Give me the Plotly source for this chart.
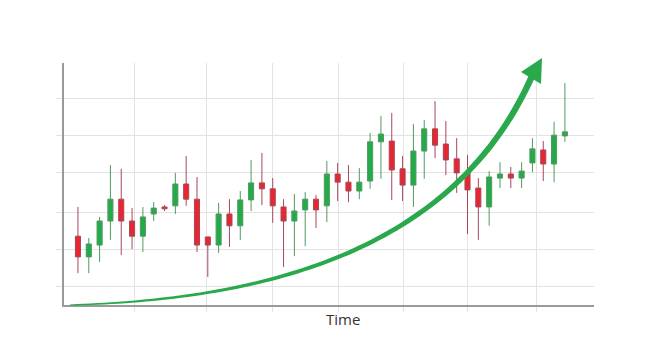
import numpy as np
import plotly.graph_objects as go

# ---- data ----
periods = list(range(46))
open_ = [18.6, 13.0, 16.2, 22.7, 28.6, 22.7, 18.6, 24.6, 26.5, 26.8,
         32.7, 28.6, 18.4, 16.2, 24.6, 21.4, 28.4, 33.0, 31.4, 26.5,
         22.7, 25.7, 28.6, 26.8, 35.4, 33.2, 30.8, 33.5, 44.1, 44.3,
         36.8, 32.4, 41.6, 47.6, 43.5, 39.5, 35.7, 31.6, 26.5, 34.3,
         35.4, 34.3, 38.4, 41.9, 38.1, 45.7]
high = [26.5, 18.1, 23.8, 37.8, 36.8, 26.2, 26.5, 27.8, 27.0, 35.7,
        40.3, 34.6, 18.4, 27.6, 28.6, 30.8, 39.2, 41.1, 34.3, 28.6,
        30.0, 30.5, 29.7, 38.9, 38.4, 37.8, 37.0, 46.5, 51.1, 51.9,
        40.3, 48.9, 50.0, 55.1, 49.7, 45.1, 40.5, 34.3, 36.2, 38.6,
        37.3, 38.6, 45.1, 44.3, 49.5, 60.0]
low = [8.6, 8.6, 11.6, 17.6, 13.5, 15.1, 14.3, 22.7, 25.4, 24.6,
       26.8, 14.3, 7.6, 14.1, 15.7, 17.6, 25.4, 27.0, 22.2, 10.3,
       13.2, 15.9, 20.8, 22.4, 28.1, 27.8, 28.6, 31.4, 34.1, 28.4,
       28.1, 26.5, 34.1, 39.7, 35.1, 30.3, 19.2, 17.6, 21.4, 31.6,
       31.6, 31.6, 35.9, 33.5, 33.2, 44.1]
close = [13.0, 16.5, 22.7, 28.6, 22.7, 18.6, 23.8, 26.2, 26.0, 32.7,
         28.6, 16.2, 16.2, 24.6, 21.4, 28.4, 33.0, 31.4, 26.8, 22.7,
         25.4, 28.6, 25.7, 35.4, 33.2, 30.8, 33.2, 44.1, 46.2, 36.5,
         32.4, 41.6, 47.6, 43.2, 39.2, 35.7, 31.1, 26.5, 34.6, 35.4,
         34.3, 36.2, 42.2, 38.1, 45.9, 46.8]

x_grid = [5.18, 11.92, 18.02, 24.12, 30.13, 36.04, 42.33]
y_grid = [5.1, 14.9, 24.9, 35.9, 45.9, 55.7]
x_title = "Time"

W, H = 661, 360
L, R, T, B = 64, 594, 63, 305

fig = go.Figure()
fig.add_trace(go.Candlestick(
    x=periods, open=open_, high=high, low=low, close=close,
    increasing=dict(line=dict(color="#4f9a60", width=1), fillcolor="#23ab4a"),
    decreasing=dict(line=dict(color="#a8475a", width=1), fillcolor="#e8262f"),
    whiskerwidth=0, showlegend=False, hoverinfo="skip",
))

# ---- decorative growth arrow (paper coordinates from pixel geometry) ----
def to_paper(px, py):
    return (px - L) / (R - L), (B - py) / (B - T)

P0 = np.array([70.0, 305.0]); P1 = np.array([250.0, 300.0])
P2 = np.array([452.0, 258.0]); P3 = np.array([532.0, 76.0])
t = np.linspace(0, 1, 80)[:, None]
pts = ((1 - t) ** 3) * P0 + 3 * ((1 - t) ** 2) * t * P1 + 3 * (1 - t) * t ** 2 * P2 + t ** 3 * P3
d = np.gradient(pts, axis=0)
n = np.stack([-d[:, 1], d[:, 0]], axis=1)
n /= np.linalg.norm(n, axis=1, keepdims=True)
w = (0.6 + 2.6 * t[:, 0] ** 0.8)[:, None]
side_a = pts + n * w
side_b = pts - n * w
poly = np.vstack([side_a, side_b[::-1]])
path = "M " + " L ".join("%.5f,%.5f" % to_paper(px, py) for px, py in poly) + " Z"
fig.add_shape(type="path", path=path, xref="paper", yref="paper",
              fillcolor="#2aa84c", line=dict(width=0), layer="above")
head = [(542, 58), (521, 72), (541, 84)]
hpath = "M " + " L ".join("%.5f,%.5f" % to_paper(px, py) for px, py in head) + " Z"
fig.add_shape(type="path", path=hpath, xref="paper", yref="paper",
              fillcolor="#2aa84c", line=dict(width=0), layer="above")

# x-axis title (placed slightly right of centre, as in the reference)
tx, ty = to_paper(343, 319)
fig.add_annotation(text=x_title, xref="paper", yref="paper", x=tx, y=ty,
                   xanchor="center", yanchor="middle", showarrow=False,
                   font=dict(size=15, color="#333333"))

fig.update_layout(
    width=W, height=H,
    margin=dict(l=L, r=W - R, t=T, b=H - B),
    paper_bgcolor="white", plot_bgcolor="white",
    boxgap=0.33,
    font=dict(family="Open Sans, Noto Sans, sans-serif", color="#333333"),
    xaxis=dict(
        range=[-1.29, 47.69], rangeslider=dict(visible=False),
        tickmode="array", tickvals=x_grid, showticklabels=False,
        showgrid=True, gridcolor="#e3e3e3", gridwidth=1,
        ticks="outside", ticklen=5, tickcolor="#e3e3e3",
        showline=True, linecolor="#9a9a9a", linewidth=1.5,
        zeroline=False,
    ),
    yaxis=dict(
        range=[0, 65.4],
        tickmode="array", tickvals=y_grid, showticklabels=False,
        showgrid=True, gridcolor="#e3e3e3", gridwidth=1,
        ticks="outside", ticklen=6, tickcolor="#e3e3e3",
        showline=True, linecolor="#9a9a9a", linewidth=1.5,
        zeroline=False,
    ),
)

fig.write_html("out.html")
